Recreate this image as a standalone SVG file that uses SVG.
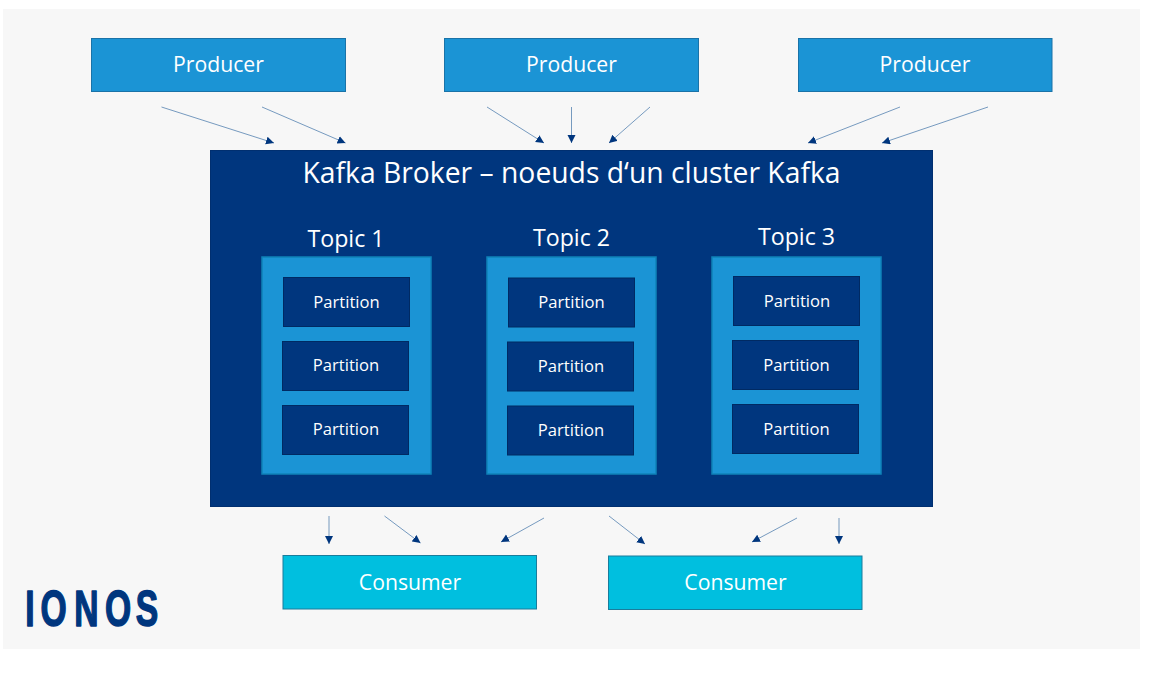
<svg xmlns="http://www.w3.org/2000/svg" width="1164" height="673" viewBox="0 0 1164 673">
<style>
text{font-family:"Open Sans","DejaVu Sans",sans-serif;fill:#fff;text-anchor:middle}
.prod{fill:#1b94d5;stroke:#1a73a8;stroke-width:1}
.cons{fill:#00bfdf;stroke:#1a7d9c;stroke-width:1}
.topic{fill:#1b94d5;stroke:#0f83b8;stroke-width:1.5}
.part{fill:#00367e;stroke:#002a63;stroke-width:1}
.lbl{font-size:21.2px}
.tt{font-size:23.2px}
.pt{font-size:16.600px}
.c line{stroke:#1f5a99;stroke-width:.6;marker-end:url(#a)}
</style>
<defs><marker id="a" markerUnits="userSpaceOnUse" markerWidth="10" markerHeight="9" refX="8" refY="4" orient="auto"><path d="M0 0L8 4L0 8Z" fill="#00367e"/></marker></defs>
<rect x="3" y="9" width="1137" height="640" fill="#f7f7f7"/>
<g id="producer1"><rect class="prod" x="91.500" y="38.500" width="254" height="53"/><text class="lbl" x="218.500" y="72">Producer</text></g>
<g id="producer2"><rect class="prod" x="444.500" y="38.500" width="254" height="53"/><text class="lbl" x="571.500" y="72">Producer</text></g>
<g id="producer3"><rect class="prod" x="798.500" y="38.500" width="253.500" height="53"/><text class="lbl" x="925" y="72">Producer</text></g>
<g id="broker"><rect x="210.500" y="150.500" width="722" height="356" fill="#00367e" stroke="#002f70"/><text x="571.500" y="183" font-size="28.300">Kafka Broker – noeuds d‘un cluster Kafka</text></g>
<g id="topic1"><text class="tt" x="346" y="247">Topic 1</text><rect class="topic" x="262" y="257" width="169" height="217"/></g>
<g id="topic2"><text class="tt" x="571.500" y="246">Topic 2</text><rect class="topic" x="487" y="257" width="169" height="217"/></g>
<g id="topic3"><text class="tt" x="796.500" y="245">Topic 3</text><rect class="topic" x="712" y="257" width="169" height="217"/></g>
<g id="t1p1"><rect class="part" x="283.500" y="277.500" width="126" height="49"/><text class="pt" x="346.500" y="307.500">Partition</text></g>
<g id="t1p2"><rect class="part" x="282.500" y="341.500" width="126" height="49"/><text class="pt" x="346" y="371">Partition</text></g>
<g id="t1p3"><rect class="part" x="282.500" y="405.500" width="126" height="49"/><text class="pt" x="346" y="435">Partition</text></g>
<g id="t2p1"><rect class="part" x="508.500" y="278" width="126" height="49"/><text class="pt" x="571.500" y="308">Partition</text></g>
<g id="t2p2"><rect class="part" x="507.500" y="342" width="126" height="49"/><text class="pt" x="571" y="371.500">Partition</text></g>
<g id="t2p3"><rect class="part" x="507.500" y="406" width="126" height="49"/><text class="pt" x="571" y="435.500">Partition</text></g>
<g id="t3p1"><rect class="part" x="733.500" y="276.500" width="126" height="49"/><text class="pt" x="797" y="306.500">Partition</text></g>
<g id="t3p2"><rect class="part" x="732.500" y="340.500" width="126" height="49"/><text class="pt" x="796.500" y="370.500">Partition</text></g>
<g id="t3p3"><rect class="part" x="732.500" y="404.500" width="126" height="49"/><text class="pt" x="796.500" y="434.500">Partition</text></g>
<g id="consumer1"><rect class="cons" x="283" y="555.500" width="253.500" height="53.500"/><text class="lbl" x="410" y="590">Consumer</text></g>
<g id="consumer2"><rect class="cons" x="608.500" y="556" width="253.500" height="53.500"/><text class="lbl" x="735.500" y="590">Consumer</text></g>
<g id="connectors" class="c">
<line x1="161.500" y1="107" x2="274" y2="143"/>
<line x1="262" y1="107" x2="345.500" y2="143"/>
<line x1="487" y1="107" x2="544" y2="143"/>
<line x1="571.500" y1="107" x2="571.500" y2="143"/>
<line x1="650" y1="107" x2="609" y2="143"/>
<line x1="900" y1="107" x2="808" y2="143"/>
<line x1="988" y1="107" x2="882" y2="143"/>
<line x1="329" y1="516" x2="329" y2="544"/>
<line x1="384.500" y1="516" x2="420.500" y2="543"/>
<line x1="544" y1="518" x2="501" y2="542"/>
<line x1="609" y1="516" x2="645" y2="544"/>
<line x1="797" y1="518" x2="752" y2="542"/>
<line x1="839" y1="518" x2="839" y2="544"/>
</g>
<text id="logo" transform="scale(.68 1)" x="44.100 78.700 127.200 173.500 216.200" y="626" style="fill:#00367e;stroke:#00367e;stroke-width:1.500;stroke-linejoin:round;font-family:'Liberation Sans Narrow','Liberation Sans',sans-serif;font-weight:700" font-size="49.500">IONOS</text>
</svg>
